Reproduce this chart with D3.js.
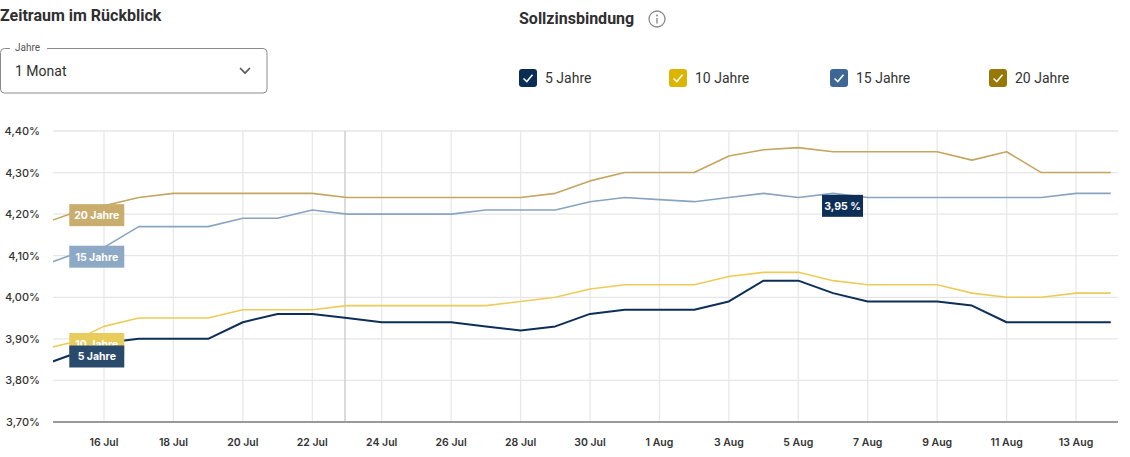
<!DOCTYPE html>
<html lang="de">
<head>
<meta charset="utf-8">
<script src="https://cdn.jsdelivr.net/npm/d3@7"></script>
<style>
  html, body { margin: 0; padding: 0; background: #fff; }
  body { width: 1130px; height: 457px; overflow: hidden; }
  svg { display: block; }
</style>
</head>
<body>
<svg id="chart" width="1130" height="457"></svg>
<script>
// ---- data ----
const dates = [
  "2025-07-14", "2025-07-15", "2025-07-16", "2025-07-17", "2025-07-18", "2025-07-19",
  "2025-07-20", "2025-07-21", "2025-07-22", "2025-07-23", "2025-07-24", "2025-07-25",
  "2025-07-26", "2025-07-27", "2025-07-28", "2025-07-29", "2025-07-30", "2025-07-31",
  "2025-08-01", "2025-08-02", "2025-08-03", "2025-08-04", "2025-08-05", "2025-08-06",
  "2025-08-07", "2025-08-08", "2025-08-09", "2025-08-10", "2025-08-11", "2025-08-12",
  "2025-08-13", "2025-08-14"
];
const jahre5 = [3.83, 3.86, 3.89, 3.90, 3.90, 3.90, 3.94, 3.96, 3.96, 3.95, 3.94, 3.94,
  3.94, 3.93, 3.92, 3.93, 3.96, 3.97, 3.97, 3.97, 3.99, 4.04, 4.04, 4.01,
  3.99, 3.99, 3.99, 3.98, 3.94, 3.94, 3.94, 3.94];
const jahre10 = [3.87, 3.89, 3.93, 3.95, 3.95, 3.95, 3.97, 3.97, 3.97, 3.98, 3.98, 3.98,
  3.98, 3.98, 3.99, 4.00, 4.02, 4.03, 4.03, 4.03, 4.05, 4.06, 4.06, 4.04,
  4.03, 4.03, 4.03, 4.01, 4.00, 4.00, 4.01, 4.01];
const jahre15 = [4.07, 4.10, 4.12, 4.17, 4.17, 4.17, 4.19, 4.19, 4.21, 4.20, 4.20, 4.20,
  4.20, 4.21, 4.21, 4.21, 4.23, 4.24, 4.235, 4.23, 4.24, 4.25, 4.24, 4.25,
  4.24, 4.24, 4.24, 4.24, 4.24, 4.24, 4.25, 4.25];
const jahre20 = [4.17, 4.20, 4.22, 4.24, 4.25, 4.25, 4.25, 4.25, 4.25, 4.24, 4.24, 4.24,
  4.24, 4.24, 4.24, 4.25, 4.28, 4.30, 4.30, 4.30, 4.34, 4.355, 4.36, 4.35,
  4.35, 4.35, 4.35, 4.33, 4.35, 4.30, 4.30, 4.30];

const seriesNames = ["5 Jahre", "10 Jahre", "15 Jahre", "20 Jahre"];
const yTicks = [3.7, 3.8, 3.9, 4.0, 4.1, 4.2, 4.3, 4.4];
const xTickDates = [
  "2025-07-16", "2025-07-18", "2025-07-20", "2025-07-22", "2025-07-24", "2025-07-26",
  "2025-07-28", "2025-07-30", "2025-08-01", "2025-08-03", "2025-08-05", "2025-08-07",
  "2025-08-09", "2025-08-11", "2025-08-13"
];
const hoverDate = "2025-07-23";
const hoverValue = "3,95 %";
const labelDate = "2025-07-15";

// ---- styles ----
const lineColors = ["#0d2f57", "#eccc58", "#88a4c1", "#c5a65f"];
const badgeColors = ["#2a4a6c", "#e8cd5c", "#8ea9c5", "#c8ad6d"];
const legendColors = ["#0b2c55", "#dcb500", "#3f6796", "#977707"];
const chartFont = "Inter, 'Open Sans', sans-serif";
const uiFont = "Roboto, 'Noto Sans', sans-serif";

const parse = d3.timeParse("%Y-%m-%d");
const fmtTick = d3.timeFormat("%-d %b");

const svg = d3.select("#chart");

// ---- header ----
svg.append("text")
    .attr("x", 0).attr("y", 21)
    .attr("font-family", uiFont).attr("font-size", 16).attr("font-weight", 700)
    .attr("fill", "#2f2f2f")
    .text("Zeitraum im Rückblick");

// select box
const sel = svg.append("g");
sel.append("rect")
    .attr("x", 0.5).attr("y", 48.5).attr("width", 266.5).attr("height", 44.5)
    .attr("rx", 4).attr("fill", "none").attr("stroke", "#8a8a8a");
sel.append("rect")
    .attr("x", 10).attr("y", 44).attr("width", 37).attr("height", 8).attr("fill", "#fff");
sel.append("text")
    .attr("x", 15).attr("y", 51)
    .attr("font-family", uiFont).attr("font-size", 10).attr("fill", "#555")
    .text("Jahre");
sel.append("text")
    .attr("x", 15).attr("y", 76)
    .attr("font-family", uiFont).attr("font-size", 14).attr("fill", "#2f2f2f")
    .text("1 Monat");
sel.append("path")
    .attr("d", "M240,68 L245,73 L250,68")
    .attr("fill", "none").attr("stroke", "#555").attr("stroke-width", 1.6);

svg.append("text")
    .attr("x", 519).attr("y", 24)
    .attr("font-family", uiFont).attr("font-size", 16).attr("font-weight", 700)
    .attr("fill", "#2f2f2f")
    .text("Sollzinsbindung");
const info = svg.append("g").attr("transform", "translate(657,19)");
info.append("circle").attr("r", 8).attr("fill", "none").attr("stroke", "#8a8a8a").attr("stroke-width", 1.3);
info.append("circle").attr("cx", 0).attr("cy", -3.6).attr("r", 1).attr("fill", "#8a8a8a");
info.append("line").attr("x1", 0).attr("x2", 0).attr("y1", -1).attr("y2", 4.5)
    .attr("stroke", "#8a8a8a").attr("stroke-width", 1.4);

// legend checkboxes
const legendX = [519, 669, 830, 989];
const legend = svg.append("g").selectAll("g")
    .data(seriesNames)
    .join("g")
    .attr("transform", (d, i) => `translate(${legendX[i]},69)`);
legend.append("rect")
    .attr("width", 18).attr("height", 18).attr("rx", 3)
    .attr("fill", (d, i) => legendColors[i]);
legend.append("path")
    .attr("d", "M4.5,9.5 L7.8,12.6 L13.5,5.8")
    .attr("fill", "none").attr("stroke", "#fff").attr("stroke-width", 1.5);
legend.append("text")
    .attr("x", 26).attr("y", 14)
    .attr("font-family", uiFont).attr("font-size", 14).attr("fill", "#333")
    .text(d => d);

// ---- chart ----
const plotLeft = 53, plotRight = 1118, plotTop = 131, plotBottom = 422;

const x = d3.scaleTime()
    .domain([new Date(2025, 6, 14, 12, 45), new Date(2025, 7, 14, 5, 0)])
    .range([plotLeft, plotRight]);
const y = d3.scaleLinear()
    .domain([3.7, 4.4])
    .range([plotBottom, plotTop]);

const fmtPct = v => d3.format(".2f")(v).replace(".", ",") + "%";

// horizontal grid
svg.append("g").selectAll("line")
    .data(yTicks)
    .join("line")
    .attr("x1", plotLeft).attr("x2", plotRight)
    .attr("y1", d => y(d)).attr("y2", d => y(d))
    .attr("stroke", "#e6e6e6").attr("stroke-width", 1.3);

// vertical grid
svg.append("g").selectAll("line")
    .data(xTickDates.map(parse))
    .join("line")
    .attr("x1", d => x(d)).attr("x2", d => x(d))
    .attr("y1", plotTop).attr("y2", plotBottom)
    .attr("stroke", "#e8e8e8").attr("stroke-width", 1.3);

// hover line
svg.append("line")
    .attr("x1", x(parse(hoverDate)) - 2).attr("x2", x(parse(hoverDate)) - 2)
    .attr("y1", plotTop).attr("y2", plotBottom)
    .attr("stroke", "#cfcfcf").attr("stroke-width", 1.5);

// y labels
svg.append("g").selectAll("text")
    .data(yTicks)
    .join("text")
    .attr("x", 40).attr("y", d => y(d) + 4)
    .attr("text-anchor", "end")
    .attr("font-family", chartFont).attr("font-size", 11).attr("font-weight", 500)
    .attr("fill", "#333")
    .text(fmtPct);

// x axis line
svg.append("line")
    .attr("x1", plotLeft).attr("x2", plotRight)
    .attr("y1", plotBottom).attr("y2", plotBottom)
    .attr("stroke", "#9a9a9a").attr("stroke-width", 2);

// x labels
svg.append("g").selectAll("text")
    .data(xTickDates.map(parse))
    .join("text")
    .attr("x", d => x(d)).attr("y", 446)
    .attr("text-anchor", "middle")
    .attr("font-family", chartFont).attr("font-size", 10.5).attr("font-weight", 600)
    .attr("fill", "#333")
    .text(d => fmtTick(d));

// lines
svg.append("clipPath").attr("id", "plotclip")
    .append("rect").attr("x", plotLeft).attr("y", 0).attr("width", plotRight - plotLeft).attr("height", 457);

const allSeries = [jahre5, jahre10, jahre15, jahre20];
const line = d3.line()
    .x((d, i) => x(parse(dates[i])))
    .y(d => y(d));

const lineOrder = [3, 2, 1, 0];
svg.append("g").attr("clip-path", "url(#plotclip)")
    .selectAll("path")
    .data(lineOrder)
    .join("path")
    .attr("d", i => line(allSeries[i]))
    .attr("fill", "none")
    .attr("stroke", i => lineColors[i])
    .attr("stroke-width", i => i === 0 ? 2 : 1.6)
    .attr("stroke-linejoin", "round");

// series badges at the start of the lines
const li = dates.indexOf(labelDate);
const badges = svg.append("g").selectAll("g")
    .data(lineOrder)
    .join("g")
    .attr("transform", i => `translate(${x(parse(labelDate))},${y(allSeries[i][li]) + 1 - 11})`);
badges.append("rect")
    .attr("width", 55).attr("height", 22)
    .attr("fill", i => badgeColors[i]);
badges.append("text")
    .attr("x", 27.5).attr("y", 15)
    .attr("text-anchor", "middle")
    .attr("font-family", chartFont).attr("font-size", 10.5).attr("font-weight", 700)
    .attr("fill", "#fff")
    .text(i => seriesNames[i]);

// tooltip value
const tip = svg.append("g")
    .attr("transform", `translate(${x(parse("2025-08-06")) - 11},${y(4.22) - 11})`);
tip.append("rect").attr("width", 41).attr("height", 22).attr("fill", "#0d2f57");
tip.append("text")
    .attr("x", 20.5).attr("y", 15)
    .attr("text-anchor", "middle")
    .attr("font-family", chartFont).attr("font-size", 10.5).attr("font-weight", 700)
    .attr("fill", "#fff")
    .text(hoverValue);
</script>
</body>
</html>
